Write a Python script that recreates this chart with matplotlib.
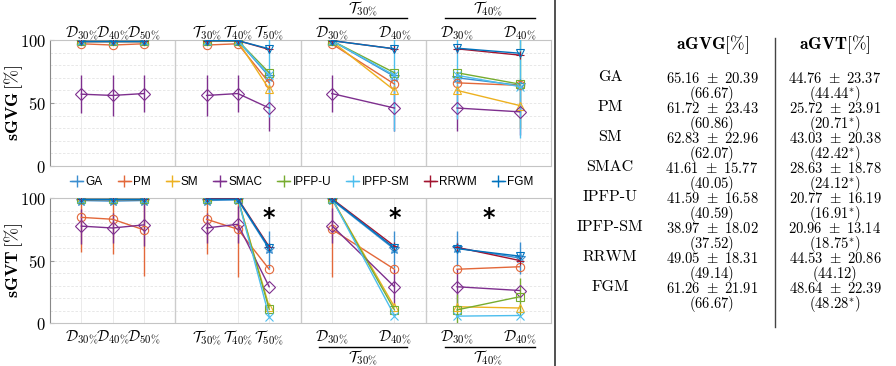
import numpy as np
import matplotlib
matplotlib.use("Agg")
import matplotlib.pyplot as plt
from matplotlib.lines import Line2D
from matplotlib.transforms import blended_transform_factory

plt.rcParams['mathtext.fontset'] = 'cm'

methods = ['GA', 'PM', 'SM', 'SMAC', 'IPFP-U', 'IPFP-SM', 'RRWM', 'FGM']
colors = ['#3b8ed0', '#e3683a', '#EDB120', '#7E2F8E', '#77AC30', '#4DBEEE', '#A2142F', '#0072BD']
markers = ['*', 'o', '^', 'D', 's', 'x', '+', 'v']

# 10 conditions: D30 D40 D50 | T30 T40 T50 | T30:(D30 D40) | T40:(D30 D40)
xpos = [1, 2, 3, 5, 6, 7, 9, 11, 13, 15]
groups = [(0, 3), (3, 6), (6, 8), (8, 10)]
seps = [4, 8, 12]
xlabels = [r'$\mathcal{D}_{30\%}$', r'$\mathcal{D}_{40\%}$', r'$\mathcal{D}_{50\%}$',
           r'$\mathcal{T}_{30\%}$', r'$\mathcal{T}_{40\%}$', r'$\mathcal{T}_{50\%}$',
           r'$\mathcal{D}_{30\%}$', r'$\mathcal{D}_{40\%}$',
           r'$\mathcal{D}_{30\%}$', r'$\mathcal{D}_{40\%}$']
group_titles = [r'$\mathcal{T}_{30\%}$', r'$\mathcal{T}_{40\%}$']

# sGVG [%]
sgvg_ga = [99.5, 99.5, 99.5, 99.5, 99.5, 71, 99.5, 71, 70, 64]
sgvg_pm = [97, 96, 97, 96, 97, 66, 97, 65, 66, 64]
sgvg_sm = [99, 99, 99, 99, 99, 61, 99, 60, 60, 48]
sgvg_smac = [57, 56, 57.5, 56, 57.5, 46, 57.5, 46, 46, 43]
sgvg_ipfpu = [99.5, 99.5, 99.5, 99.5, 99.5, 74, 99.5, 74, 74, 65]
sgvg_ipfpsm = [99.5, 99.5, 99.5, 99.5, 99.5, 72, 99.5, 72, 72, 63]
sgvg_rrwm = [99.5, 99.5, 99.5, 99.5, 99.5, 92.5, 99.5, 93, 93, 88]
sgvg_fgm = [99.5, 99.5, 99.5, 99.5, 99.5, 93, 99.5, 93, 93.5, 89.5]

sgvg_err_smac = [15, 16, 15, 16, 15, 18, 15, 18, 18, 18]
sgvg_err_ipfpsm = [0, 0, 0, 0, 0, 33, 0, 44, 35, 41]
sgvg_err_ipfpu = [0, 0, 0, 0, 0, 0, 0, 0, 0, 35]

# sGVT [%]
sgvt_ga = [98, 97.5, 98, 98, 98.5, 59, 98.5, 59, 60, 52]
sgvt_pm = [84.5, 83, 74.5, 83, 75, 43, 75, 43, 43, 45]
sgvt_sm = [99.5, 99.5, 99.5, 99.5, 99.5, 13, 99.5, 13, 13, 12]
sgvt_smac = [77.5, 76, 78.5, 76, 79, 29, 78, 29, 29, 26]
sgvt_ipfpu = [99.5, 99.5, 99.5, 99.5, 99.5, 11, 99.5, 10.5, 10.5, 21]
sgvt_ipfpsm = [99.5, 99.5, 99.5, 99.5, 99.5, 5, 99.5, 6, 5.5, 6]
sgvt_rrwm = [99.5, 99.5, 99.5, 99.5, 99.5, 61, 99.5, 61.5, 60.5, 50]
sgvt_fgm = [99, 99, 99, 99, 99, 60, 99, 60, 59.5, 53.5]

sgvt_err_pm = [28, 28, 37, 28, 38, 0, 38, 0, 0, 0]
sgvt_err_smac = [14, 12, 17, 12, 15, 0, 14, 14, 14, 0]
sgvt_err_ga = [0, 0, 0, 0, 0, 15, 0, 15, 14, 13]
sgvt_err_ipfpu = [0, 0, 0, 0, 0, 0, 0, 0, 13, 15]
sgvt_stars = [7, 11, 14]

# table
agvg_mean = [65.16, 61.72, 62.83, 41.61, 41.59, 38.97, 49.05, 61.26]
agvg_std = [20.39, 23.43, 22.96, 15.77, 16.58, 18.02, 18.31, 21.91]
agvg_med = [66.67, 60.86, 62.07, 40.05, 40.59, 37.52, 49.14, 66.67]
agvt_mean = [44.76, 25.72, 43.03, 28.63, 20.77, 20.96, 44.53, 48.64]
agvt_std = [23.37, 23.91, 20.38, 18.78, 16.19, 13.14, 20.86, 22.39]
agvt_med = [44.44, 20.71, 42.42, 24.12, 16.91, 18.75, 44.12, 48.28]
agvt_sig = [True, True, True, True, True, True, False, True]

top_vals = [sgvg_ga, sgvg_pm, sgvg_sm, sgvg_smac, sgvg_ipfpu, sgvg_ipfpsm, sgvg_rrwm, sgvg_fgm]
top_errs = [None, None, None, sgvg_err_smac, sgvg_err_ipfpu, sgvg_err_ipfpsm, None, None]
bot_vals = [sgvt_ga, sgvt_pm, sgvt_sm, sgvt_smac, sgvt_ipfpu, sgvt_ipfpsm, sgvt_rrwm, sgvt_fgm]
bot_errs = [sgvt_err_ga, sgvt_err_pm, None, sgvt_err_smac, sgvt_err_ipfpu, None, None, None]

W, H = 896, 366
fig = plt.figure(figsize=(W / 100, H / 100), dpi=100)

def fx(px):
    return px / W

def fy(py):
    return 1 - py / H

ax1 = fig.add_axes([fx(50), fy(166), fx(501), 126 / H])
ax2 = fig.add_axes([fx(50), fy(323), fx(501), 125 / H])


def draw_panel(ax, vals, errs, ylabel):
    ax.set_xlim(0, 16)
    ax.set_ylim(0, 100)
    for y in range(10, 100, 10):
        ax.axhline(y, color='#e4e4e4', lw=0.6, ls=(0, (3, 2)), zorder=0)
    for x in xpos:
        ax.axvline(x, color='#e8e8e8', lw=0.6, zorder=0)
    for s in seps:
        ax.axvline(s, color='#cccccc', lw=1.0, zorder=1)
    for i in range(len(methods)):
        v = np.array(vals[i])
        e = errs[i]
        for a, b in groups:
            xs = xpos[a:b]
            ys = v[a:b]
            ax.errorbar(xs, ys, yerr=None if e is None else e[a:b],
                        color=colors[i], marker=markers[i], mfc='none',
                        ms=8 if markers[i] == '*' else 6, mew=0.8, lw=1.0,
                        elinewidth=1.0, capsize=0, zorder=3)
    ax.set_yticks([0, 50, 100])
    ax.set_yticklabels([r'$0$', r'$50$', r'$100$'], fontsize=12)
    ax.tick_params(axis='y', direction='in', length=3, color='#999999', pad=3)
    ax.set_xticks(xpos)
    ax.set_xticklabels(xlabels, fontsize=11)
    ax.tick_params(axis='x', length=0)
    for sp in ax.spines.values():
        sp.set_color('#c4c4c4')
    ax.spines['left'].set_color('#888888')
    ax.set_ylabel(ylabel, fontsize=13)
    ax.yaxis.set_label_coords(-0.05, 0.5)


draw_panel(ax1, top_vals, top_errs, r'$\mathbf{sGVG}\,[\%]$')
ax1.xaxis.tick_top()
ax1.tick_params(axis='x', pad=-2)
draw_panel(ax2, bot_vals, bot_errs, r'$\mathbf{sGVT}\,[\%]$')
ax2.tick_params(axis='x', pad=4)

for x in sgvt_stars:
    ax2.text(x, 84, '*', fontsize=17, fontweight='bold', ha='center', va='center', zorder=5)

# group headers (T30 / T40) over the D labels
spans = [(8.6, 11.4, 10), (12.6, 15.5, 14)]
tr1 = blended_transform_factory(ax1.transData, fig.transFigure)
tr2 = blended_transform_factory(ax2.transData, fig.transFigure)
for (x0, x1, xc), title in zip(spans, group_titles):
    fig.add_artist(Line2D([x0, x1], [fy(18), fy(18)], transform=tr1, color='black', lw=1.0))
    fig.text(xc, fy(9), title, transform=tr1, ha='center', va='center', fontsize=11)
    fig.add_artist(Line2D([x0, x1], [fy(347), fy(347)], transform=tr2, color='black', lw=1.0))
    fig.text(xc, fy(358), title, transform=tr2, ha='center', va='center', fontsize=11)

handles = [Line2D([], [], color=c, marker='+', ms=8, lw=1.0) for c in colors]
fig.legend(handles, methods, loc='center', bbox_to_anchor=(fx(302), fy(182)), ncol=8,
           frameon=False, handlelength=1.1, handletextpad=0.2,
           columnspacing=1.25, prop={'family': 'Liberation Sans', 'size': 8.5})

# table
fig.add_artist(Line2D([fx(555), fx(555)], [0, 1], color='#333333', lw=1.2))
fig.add_artist(Line2D([fx(775), fx(775)], [fy(38), fy(327)], color='#444444', lw=1.0))
fig.text(fx(712), fy(45), r'$\mathbf{aGVG}[\%]$', ha='center', va='center', fontsize=12.5)
fig.text(fx(835), fy(45), r'$\mathbf{aGVT}[\%]$', ha='center', va='center', fontsize=12.5)
for i, m in enumerate(methods):
    y = 77 + 30 * i
    fig.text(fx(610), fy(y), m, ha='center', va='center', fontsize=11.5, family='cmr10')
    cell_g = r'$%.2f\ \pm\ %.2f$' % (agvg_mean[i], agvg_std[i]) + '\n' + r'$(%.2f)$' % agvg_med[i]
    star = r'^{*}' if agvt_sig[i] else ''
    cell_t = r'$%.2f\ \pm\ %.2f$' % (agvt_mean[i], agvt_std[i]) + '\n' + r'$(%.2f%s)$' % (agvt_med[i], star)
    fig.text(fx(712), fy(y - 6), cell_g, ha='center', va='top', fontsize=10.5,
             linespacing=0.88, multialignment='center')
    fig.text(fx(835), fy(y - 6), cell_t, ha='center', va='top', fontsize=10.5,
             linespacing=0.88, multialignment='center')

fig.savefig('out.png', dpi=100)
